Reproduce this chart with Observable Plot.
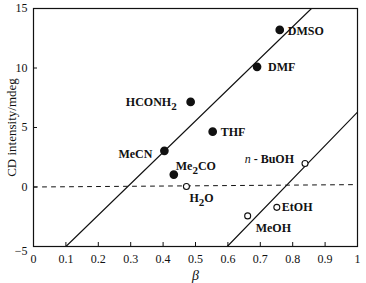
<!DOCTYPE html>
<html>
<head>
<meta charset="utf-8">
<script src="https://cdn.jsdelivr.net/npm/d3@7"></script>
<script src="https://cdn.jsdelivr.net/npm/@observablehq/plot@0.6"></script>
<style>
  html, body { margin: 0; padding: 0; background: #fff; }
  svg { display: block; }
  #chart svg, #chart svg text { font-family: "Liberation Serif", "DejaVu Serif", serif !important; }
</style>
</head>
<body>
<div id="chart"></div>
<script>
// Solvents (β, CD intensity)
const names  = ["DMSO", "DMF", "HCONH_2", "THF", "MeCN", "Me_2CO", "H_2O", "*n* - BuOH", "EtOH", "MeOH"];
const beta   = [0.76, 0.69, 0.485, 0.553, 0.404, 0.433, 0.472, 0.838, 0.751, 0.661];
const cd     = [13.2, 10.1, 7.15, 4.65, 3.04, 1.04, 0.04, 1.98, -1.71, -2.43];
const filled = [true, true, true, true, true, true, false, false, false, false];

// Fitted lines (endpoints at the frame)
const line1Beta = [0.10, 0.858];
const line1CD   = [-5, 15];
const line2Beta = [0.598, 1.0];
const line2CD   = [-5, 6.3];
const zeroBeta  = [0, 1];
const zeroCD    = [0, 0.2];

const xTicks = [0, 0.1, 0.2, 0.3, 0.4, 0.5, 0.6, 0.7, 0.8, 0.9, 1];
const xInner = [0.1, 0.2, 0.3, 0.4, 0.5, 0.6, 0.7, 0.8, 0.9];
const yTicks = [0, 5, 10, 15];
const yLowTick = [-5];
const yInner = [0, 5, 10];

// label placement (style only)
const place = {
  "DMSO":       {dx: 8,   dy: 1,  anchor: "start"},
  "DMF":        {dx: 11,  dy: 0,  anchor: "start"},
  "HCONH_2":    {dx: -14, dy: 0,  anchor: "end"},
  "THF":        {dx: 8,   dy: 0,  anchor: "start"},
  "MeCN":       {dx: -12, dy: 3,  anchor: "end"},
  "Me_2CO":     {dx: 2,   dy: -8, anchor: "start"},
  "H_2O":       {dx: 3,   dy: 12, anchor: "start"},
  "*n* - BuOH": {dx: -11, dy: -4, anchor: "end"},
  "EtOH":       {dx: 5,   dy: 0,  anchor: "start"},
  "MeOH":       {dx: 8,   dy: 12, anchor: "start"}
};

const idx = d3.range(names.length);
const serif = "Liberation Serif";
const yFmt = d => d < 0 ? "\u2212" + Math.abs(d) : String(d);

const labelMarks = idx.map(i => Plot.text([i], {
  x: j => beta[j], y: j => cd[j], text: j => names[j],
  dx: place[names[i]].dx, dy: place[names[i]].dy,
  textAnchor: place[names[i]].anchor,
  fontSize: 12, fontWeight: "bold", fill: "#111"
}));

const chart = Plot.plot({
  width: 366,
  height: 283,
  marginLeft: 33,
  marginRight: 9,
  marginTop: 8,
  marginBottom: 37,
  style: {fontFamily: serif, fontSize: "12px", color: "#111", background: "#fff"},
  x: {domain: [0, 1]},
  y: {domain: [-5, 15]},
  marks: [
    Plot.axisX({ticks: xTicks, tickSize: 0, tickPadding: 8, fontSize: 12,
      tickFormat: d => (d === 0 || d === 1) ? String(d) : d.toFixed(1),
      label: "β", labelAnchor: "center", labelArrow: "none", labelOffset: 33}),
    Plot.axisX({ticks: xInner, tickSize: -4, text: null, label: null, stroke: "#111"}),
    Plot.axisY({ticks: yTicks, tickSize: 0, tickPadding: 6, fontSize: 12, tickFormat: yFmt,
      label: "CD intensity/mdeg", labelAnchor: "center", labelArrow: "none", labelOffset: 27}),
    Plot.axisY({ticks: yLowTick, tickSize: 0, tickPadding: 6, fontSize: 12, tickFormat: yFmt,
      dy: 5, label: null}),
    Plot.axisY({ticks: yInner, tickSize: -4, text: null, label: null, stroke: "#111"}),
    Plot.frame({stroke: "#111", strokeWidth: 1.2}),
    Plot.line(zeroBeta.map((b, i) => i), {x: i => zeroBeta[i], y: i => zeroCD[i],
      stroke: "#111", strokeWidth: 1, strokeDasharray: "4,5"}),
    Plot.line(line1Beta.map((b, i) => i), {x: i => line1Beta[i], y: i => line1CD[i], stroke: "#111", strokeWidth: 1.1}),
    Plot.line(line2Beta.map((b, i) => i), {x: i => line2Beta[i], y: i => line2CD[i], stroke: "#111", strokeWidth: 1.1}),
    Plot.dot(idx.filter(i => filled[i]), {x: i => beta[i], y: i => cd[i], r: 3.6, fill: "#111", stroke: "#111"}),
    Plot.dot(idx.filter(i => !filled[i]), {x: i => beta[i], y: i => cd[i], r: 3, fill: "#fff", stroke: "#111", strokeWidth: 1.1}),
    ...labelMarks
  ]
});

// rich text: _2 -> subscript, *n* -> italic
chart.querySelectorAll("text").forEach(t => {
  const s = t.textContent;
  if (!/[_*]/.test(s) || t.querySelector("tspan")) return;
  t.textContent = "";
  const re = /_(\d)|\*([^*]+)\*|([^_*]+)/g;
  let m, sub = false;
  while ((m = re.exec(s))) {
    const ts = document.createElementNS("http://www.w3.org/2000/svg", "tspan");
    if (m[1]) {
      ts.textContent = m[1];
      ts.setAttribute("dy", "4");
      ts.setAttribute("font-size", "11");
      sub = true;
    } else if (m[2]) {
      ts.textContent = m[2];
      ts.setAttribute("font-style", "italic");
      ts.setAttribute("font-weight", "normal");
    } else {
      ts.textContent = m[3];
      if (sub) { ts.setAttribute("dy", "-4"); sub = false; }
    }
    t.appendChild(ts);
  }
});
// beta label in italic
chart.querySelectorAll("text").forEach(t => {
  if (t.textContent === "β") { t.setAttribute("font-style", "italic"); t.setAttribute("font-size", "14"); }
  if (t.textContent === "CD intensity/mdeg") t.setAttribute("font-size", "13");
});

document.getElementById("chart").appendChild(chart);
</script>
</body>
</html>
